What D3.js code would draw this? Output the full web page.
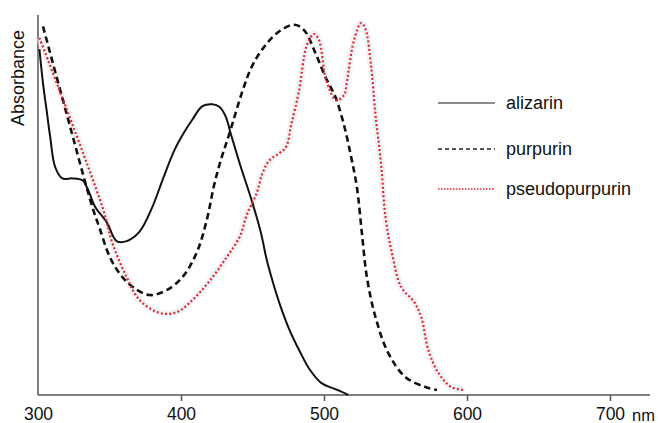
<!DOCTYPE html>
<html lang="en">
<head>
    <meta charset="UTF-8">
    <title>Absorbance spectra</title>
    <style>
        body { margin: 0; background: #fff; }
        svg { display: block; font-family: "Liberation Sans", Arial, sans-serif; }
        .axis path, .axis line { stroke: #555; stroke-width: 1.5px; }
        .axis text { font-size: 17.5px; fill: #111; }
        .legend text { font-size: 18px; fill: #111; }
    </style>
</head>
<body>

<svg width="658" height="423"></svg>

<script src="https://d3js.org/d3.v7.min.js"></script>
<script>
    // wavelength (nm) and relative absorbance
    const alizarinNm = [301, 303.5, 306, 308.5, 312, 317, 324, 331, 335, 340, 348, 355, 362, 371, 380, 387, 395.5, 402, 408, 415, 422, 427, 431, 435, 441, 450, 456, 460, 464, 469, 476, 483, 490, 498, 506, 511, 517];
    const alizarinAbs = [0.91, 0.82, 0.75, 0.68, 0.60, 0.57, 0.57, 0.565, 0.54, 0.495, 0.455, 0.405, 0.405, 0.43, 0.495, 0.565, 0.645, 0.69, 0.725, 0.76, 0.765, 0.758, 0.735, 0.685, 0.61, 0.505, 0.425, 0.355, 0.30, 0.24, 0.17, 0.115, 0.067, 0.032, 0.018, 0.011, 0.0];

    const purpurinNm = [303.5, 320, 338, 343, 350, 357, 366, 378, 390, 401, 411, 418, 423, 428, 434, 443, 449, 456, 467, 478, 483, 487.5, 494, 501, 508, 514, 519, 523, 526.5, 530, 536, 545, 557, 571, 579];
    const purpurinAbs = [0.97, 0.74, 0.495, 0.44, 0.365, 0.32, 0.285, 0.263, 0.276, 0.31, 0.375, 0.46, 0.55, 0.62, 0.69, 0.80, 0.86, 0.905, 0.952, 0.974, 0.97, 0.953, 0.90, 0.837, 0.784, 0.71, 0.626, 0.547, 0.426, 0.31, 0.205, 0.11, 0.047, 0.021, 0.013];

    const pseudoNm = [301, 345, 352, 362, 371, 385, 397, 408, 420, 432, 441, 446, 453, 457, 462, 469, 473.5, 477, 482.5, 488, 493, 496.5, 501.5, 508.5, 514, 516, 521, 526, 529, 533, 536, 540, 543, 547.5, 554, 563, 568, 573, 580, 589, 598];
    const pseudoAbs = [0.94, 0.495, 0.40, 0.31, 0.25, 0.216, 0.218, 0.25, 0.30, 0.363, 0.416, 0.474, 0.532, 0.584, 0.618, 0.637, 0.653, 0.71, 0.80, 0.92, 0.95, 0.934, 0.83, 0.776, 0.789, 0.824, 0.934, 0.979, 0.963, 0.863, 0.737, 0.605, 0.468, 0.374, 0.284, 0.245, 0.205, 0.118, 0.058, 0.021, 0.013];

    const xTicks = [300, 400, 500, 600, 700];
    const seriesNames = ["alizarin", "purpurin", "pseudopurpurin"];

    const svg = d3.select('svg');
    const x = d3.scaleLinear().domain([300, 700]).range([38, 610]);
    const y = d3.scaleLinear().domain([0, 1]).range([395, 15]);

    // x axis
    const xAxis = svg.append('g').attr('class', 'axis')
        .attr('transform', 'translate(0,395)')
        .call(d3.axisBottom(x).tickValues(xTicks).tickSize(6).tickPadding(7).tickSizeOuter(0));
    xAxis.select('.domain').attr('d', 'M' + x(300) + ',0H650');
    xAxis.select('.tick line').remove();   // the y axis covers the 300 tick
    svg.append('text').attr('x', 632).attr('y', 421)
        .style('font-size', '16.5px').attr('fill', '#111').text('nm');

    // y axis: plain line, no ticks
    svg.append('line').attr('x1', x(300)).attr('x2', x(300)).attr('y1', 15).attr('y2', 395)
        .attr('stroke', '#555').attr('stroke-width', 1.5);
    svg.append('text')
        .attr('transform', 'translate(24,78) rotate(-90)')
        .attr('text-anchor', 'middle')
        .style('font-size', '18px').attr('fill', '#111')
        .text('Absorbance');

    const line = d3.line().x(d => x(d[0])).y(d => y(d[1])).curve(d3.curveCatmullRom.alpha(0.5));
    const zip = (a, b) => a.map((v, i) => [v, b[i]]);

    const styles = [
        { color: '#111', width: 2, dash: null, legendColor: '#666', legendWidth: 1.5, legendDash: null },
        { color: '#111', width: 2.6, dash: '6.5,4', legendColor: '#222', legendWidth: 1.5, legendDash: '4,3' },
        { color: '#e8232b', width: 2.2, dash: '2,2.2', legendColor: '#e8232b', legendWidth: 1.5, legendDash: '1.5,1.5' }
    ];
    const data = [zip(alizarinNm, alizarinAbs), zip(purpurinNm, purpurinAbs), zip(pseudoNm, pseudoAbs)];

    // faint halo under the red trace
    svg.append('path').datum(data[2]).attr('d', line)
        .attr('fill', 'none').attr('stroke', '#e2ebf1').attr('stroke-width', 7).attr('stroke-opacity', 0.55);

    data.forEach((d, i) => {
        svg.append('path').datum(d).attr('d', line)
            .attr('fill', 'none')
            .attr('stroke', styles[i].color)
            .attr('stroke-width', styles[i].width)
            .attr('stroke-dasharray', styles[i].dash);
    });

    // legend
    const legendY = [103, 149, 189];
    const legend = svg.append('g').attr('class', 'legend');
    seriesNames.forEach((name, i) => {
        legend.append('line').attr('x1', 438).attr('x2', 495).attr('y1', legendY[i]).attr('y2', legendY[i])
            .attr('stroke', styles[i].legendColor)
            .attr('stroke-width', styles[i].legendWidth)
            .attr('stroke-dasharray', styles[i].legendDash);
        legend.append('text').attr('x', 506).attr('y', legendY[i]).attr('dy', '0.35em').text(name);
    });
</script>
</body>
</html>
